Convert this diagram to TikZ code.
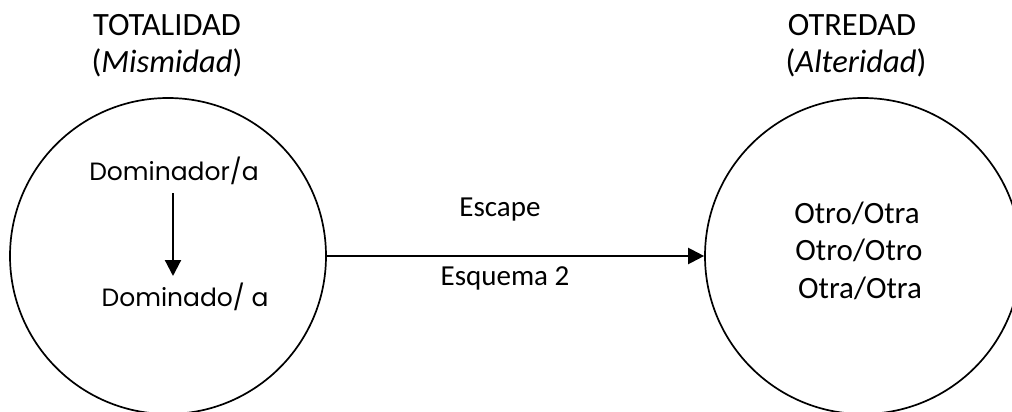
\documentclass[tikz,border=0pt]{standalone}
\usepackage{fontspec}
\setmainfont{Carlito}
\newfontfamily\domfont{Poppins}
\usetikzlibrary{arrows.meta}
\begin{document}
\begin{tikzpicture}[x=1pt,y=-1pt,
  lbl/.style={font=\fontsize{29}{34}\selectfont, inner sep=0pt, anchor=center},
  tlbl/.style={font=\fontsize{32.5}{38}\selectfont, inner sep=0pt, anchor=center},
  rlbl/.style={font=\fontsize{31}{36}\selectfont, inner sep=0pt, anchor=center},
  dlbl/.style={font=\domfont\fontsize{25}{30}\selectfont, inner sep=0pt, anchor=center},
  circ/.style={draw, line width=1.7pt, circle, minimum size=316pt, inner sep=0pt},
  conn/.style={draw, line width=2.2pt, -{Triangle[length=16pt,width=16pt]}}]
\useasboundingbox (0,0) rectangle (1012,412);
\node[circ] (L) at (168,256) {};
\node[circ] (R) at (863,256) {};
\node[tlbl] (t1) at (167,25) {TOTALIDAD};
\node[tlbl] (t2) at (167,63) {(\textit{Mismidad})};
\node[tlbl] (o1) at (852,25) {OTREDAD};
\node[tlbl] (o2) at (856,63) {(\textit{Alteridad})};
\node[dlbl] (d1) at (174,171) {Dominador/a};
\node[dlbl] (d2) at (185,297) {Dominado/ a};
\coordinate (a1) at (173,193);
\coordinate (a2) at (173,276);
\draw[conn] (a1) -- (a2);
\draw[conn] (L.east) -- (R.west);
\node[lbl] (e1) at (500,210) {Escape};
\node[lbl] (e2) at (505,278) {Esquema 2};
\node[rlbl] (r1) at (857,213) {Otro/Otra};
\node[rlbl] (r2) at (859,250) {Otro/Otro};
\node[rlbl] (r3) at (860,288) {Otra/Otra};
\end{tikzpicture}
\end{document}
